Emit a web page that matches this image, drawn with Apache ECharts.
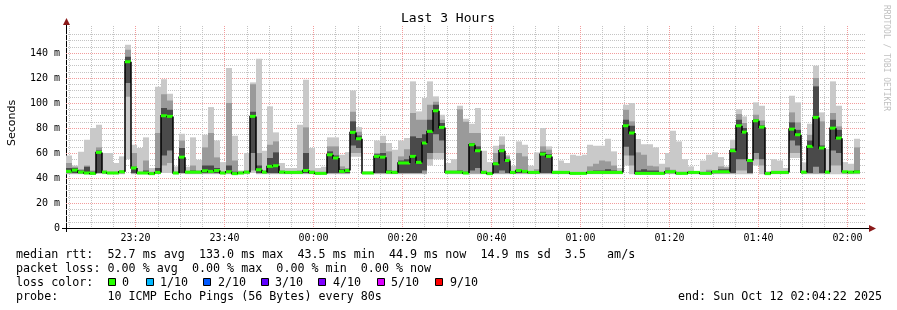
<!DOCTYPE html>
<html>
<head>
<meta charset="utf-8">
<title>Last 3 Hours</title>
<script src="https://cdn.jsdelivr.net/npm/echarts@6/dist/echarts.min.js"></script>
<style>
html, body { margin: 0; padding: 0; background: #fff; }
#chart { width: 897px; height: 310px; }
</style>
</head>
<body>
<div id="chart"></div>
<script>
// one probe round (10 pings) every 80 s, seconds counted from 23:00:00
const startSec = 262
const stepSec = 80
const endSec = 11062

// median rtt per round, ms
const median = [45.3, 46.3, 44.7, 44, 43.7, 60.5, 44.7, 44, 44, 45,
  133.0, 48, 44, 44, 43.5, 44.5, 89.8, 89.3, 44, 56.7,
  44.7, 44.7, 44.7, 45.8, 45.3, 46, 44, 45, 43.5, 44,
  44.7, 89.3, 46.6, 44.7, 49.3, 49.8, 44.7, 44.5, 44.5, 44.5,
  46, 44.5, 43.7, 43.7, 58.6, 56, 45.3, 46, 76.5, 71.4,
  44, 44, 57.3, 56.7, 44.7, 44.5, 52, 52, 57.3, 52.5,
  68, 77.3, 93.8, 80.5, 44.7, 44.7, 44.7, 44, 66.6, 61.8,
  44.5, 43.5, 51.4, 61.8, 54, 44.5, 46, 45.3, 44.5, 44.5,
  59.1, 57.3, 44.5, 44.5, 44.5, 43.7, 43.7, 43.7, 44.5, 44.5,
  44.5, 44.5, 44.5, 44.5, 81.8, 76, 43.7, 43.7, 43.7, 43.7,
  43.7, 45, 45, 43.7, 43.7, 44.5, 44.5, 43.7, 43.7, 45,
  45, 45, 61.8, 81.8, 76.7, 54, 85.8, 80.7, 43.5, 44.5,
  44.5, 44.5, 79.1, 74.6, 44.7, 65.3, 88.5, 64, 44.7, 79.9,
  71.9, 45, 44.7, 44.9]

// slowest ping of each round (top of the smoke)
const maxPing = [58, 50, 61, 70.6, 80, 82.6, 60, 60, 52, 57.3,
  146.6, 66.6, 64, 72.5, 48, 113, 119, 107.4, 49.3, 75.4,
  49, 72.5, 54.6, 74.6, 96.7, 70, 52.7, 128, 73.8, 46,
  60, 116.5, 135.4, 61.8, 97.3, 76.5, 52, 48, 48, 82.6,
  118.6, 64, 48, 49, 72.5, 72.5, 58.6, 60.7, 110, 80.7,
  45.5, 45.5, 70, 73.8, 68, 62.6, 70, 72, 117.3, 93.3,
  104, 117.3, 105.3, 90.6, 52, 55, 97.8, 87.4, 83.4, 96,
  61.8, 52.7, 65.8, 73.3, 58.6, 49.8, 69.3, 66.6, 49.8, 60.5,
  80, 65.3, 46, 54, 52, 58.6, 57.8, 58.6, 66.6, 65.8,
  65.8, 71.4, 61.3, 48, 98.6, 100, 71.2, 67, 67, 64.5,
  51.4, 60, 77.8, 69.3, 55, 49.3, 45.5, 54, 58.6, 60.5,
  56.7, 49.3, 70.6, 95.1, 89.3, 55, 100.5, 97.8, 45.5, 55,
  54, 48, 105.8, 100.5, 52.5, 83.4, 129.8, 92.5, 63.1, 117.3,
  97.8, 52.7, 51.4, 71.4]

// fastest ping of each round (bottom of the smoke)
const minPing = [43, 43, 43, 43, 43, 44, 43, 43, 43, 43,
  55, 43, 43, 43, 43, 43, 44, 44, 43, 44,
  43, 43, 43, 43, 43, 43, 43, 43, 43, 43,
  43, 44, 43, 43, 43, 43, 43, 43, 43, 43,
  43, 43, 43, 43, 43, 43, 43, 43, 57, 57,
  43, 43, 43, 43, 43, 43, 43, 43, 43, 43,
  43, 50, 55, 55, 43, 43, 43, 43, 43, 43,
  43, 43, 43, 43, 43, 43, 43, 43, 43, 43,
  43, 43, 43, 43, 43, 43, 43, 43, 43, 43,
  43, 43, 43, 43, 50, 43, 43, 43, 43, 43,
  43, 43, 43, 43, 43, 43, 43, 43, 43, 43,
  43, 43, 43, 43, 43, 43, 50, 43, 43, 43,
  43, 43, 56, 56, 43, 43, 43, 43, 43, 43,
  43, 43, 43, 43]

// inner smoke band (3rd fastest .. 3rd slowest ping)
const midHigh = [52, 49, 47, 50, 46, 64.5, 46, 45, 45, 46,
  142.6, 60, 45, 54, 45, 76, 107, 102, 45, 70,
  45.5, 50, 46, 64.5, 76, 56.5, 45, 100, 54, 45,
  46, 115, 60, 46, 66.6, 69.3, 46, 45, 45, 46,
  80.5, 46, 45, 45, 65.3, 65.3, 49.3, 48, 93, 77,
  44.5, 44.5, 60, 68, 61.3, 46, 57.3, 63, 92, 86.6,
  86.6, 98.6, 101, 86.6, 46, 46, 95, 85, 76, 76,
  46, 45, 60, 66.6, 57.3, 45, 60, 57.3, 45, 47,
  65.3, 62.6, 45, 45, 45, 44.5, 44.5, 44.5, 49.3, 51.4,
  54, 53.3, 50, 45, 94.6, 85.3, 60.5, 58.6, 49.8, 49.3,
  45, 48.5, 46.6, 45, 45, 45, 45, 45, 46.6, 46,
  49.3, 48.5, 64, 91.1, 84, 54.5, 90.6, 86, 44.5, 45,
  45, 45, 92.5, 84.5, 45, 74.6, 120, 85.3, 46, 92,
  81.3, 45.5, 45, 64.5]
const midLow = [43.5, 43.5, 43.5, 43.5, 43.5, 43.5, 43.5, 43.5, 43.5, 43.5,
  105, 43.5, 43.5, 43.5, 43.5, 43.5, 50, 52, 43.5, 43.5,
  43.5, 43.5, 43.5, 43.5, 43.5, 43.5, 43.5, 43.5, 43.5, 43.5,
  43.5, 46, 43.5, 43.5, 43.5, 43.5, 43.5, 43.5, 43.5, 43.5,
  43.5, 43.5, 43.5, 43.5, 43.5, 43.5, 43.5, 43.5, 60, 60,
  43.5, 43.5, 43.5, 43.5, 43.5, 43.5, 43.5, 43.5, 43.5, 43.5,
  43.5, 55, 60, 60, 43.5, 43.5, 43.5, 43.5, 43.5, 43.5,
  43.5, 43.5, 43.5, 43.5, 43.5, 43.5, 43.5, 43.5, 43.5, 43.5,
  43.5, 43.5, 43.5, 43.5, 43.5, 43.5, 43.5, 43.5, 43.5, 43.5,
  43.5, 43.5, 43.5, 43.5, 58, 50, 43.5, 43.5, 43.5, 43.5,
  43.5, 43.5, 43.5, 43.5, 43.5, 43.5, 43.5, 43.5, 43.5, 43.5,
  43.5, 43.5, 43.5, 46, 46, 43.5, 55, 50, 43.5, 43.5,
  43.5, 43.5, 60, 60, 43.5, 43.5, 43.5, 43.5, 43.5, 50,
  50, 43.5, 43.5, 43.5]

// core smoke band (pings around the median)
const darkHigh = [48, 48, 46, 49, 45, 62, 45, 44.5, 44.5, 45.5,
  137, 49, 44.5, 46, 44, 48, 96, 94.6, 44.5, 64,
  45, 46, 45, 50, 50, 48, 44.5, 50, 45, 44.5,
  45, 93, 50, 45, 56, 60.5, 45, 45, 45, 45,
  60, 45, 44.5, 44.5, 61.3, 58, 47, 47, 85.3, 74,
  44.5, 44.5, 59, 60, 46, 45, 54, 55, 73.3, 72,
  75, 86.6, 98.6, 84, 45, 45, 46, 45, 68, 65.3,
  45, 44, 52.5, 63, 55, 45, 47, 46, 45, 45,
  61, 59, 45, 45, 45, 44.5, 44.5, 44.5, 45, 46,
  46, 47, 46, 45, 86.6, 81.8, 46, 47, 46, 46,
  44.5, 46, 45.5, 44.5, 44.5, 45, 45, 44.5, 45, 45.5,
  47, 47, 62.5, 86.6, 80, 54.5, 87, 82, 44, 45,
  45, 45, 84.5, 78.5, 45.5, 70, 113.3, 66, 45.5, 86.6,
  78.5, 45.5, 45.5, 46]
const darkLow = [44, 44, 44, 44, 44, 44, 44, 44, 44, 44,
  116, 44, 44, 44, 44, 44, 58, 62, 44, 44,
  44, 44, 44, 44, 44, 44, 44, 44, 44, 44,
  44, 60, 44, 44, 44, 44, 44, 44, 44, 44,
  44, 44, 44, 44, 44, 44, 44, 44, 66, 64,
  44, 44, 44, 44, 44, 44, 44, 44, 44, 44,
  46, 60, 75, 70, 44, 44, 44, 44, 46, 48,
  44, 44, 44, 46, 44, 44, 44, 44, 44, 44,
  44, 44, 44, 44, 44, 44, 44, 44, 44, 44,
  44, 44, 44, 44, 65, 58, 44, 44, 44, 44,
  44, 44, 44, 44, 44, 44, 44, 44, 44, 44,
  44, 44, 44, 55, 55, 44, 60, 55, 44, 44,
  44, 44, 70, 66, 44, 44, 49, 44, 44, 62,
  60, 44, 44, 44]

const xTickSecs = [1200, 2400, 3600, 4800, 6000, 7200, 8400, 9600, 10800]
const xTickLabels = ['23:20', '23:40', '00:00', '00:20', '00:40', '01:00', '01:20', '01:40', '02:00']
const yTicks = [0, 20, 40, 60, 80, 100, 120, 140]

const mono = 'DejaVu Sans Mono'
const smokeRows = median.map((m, i) => [startSec + i * stepSec, startSec + (i + 1) * stepSec,
  minPing[i], maxPing[i], midLow[i], midHigh[i], darkLow[i], darkHigh[i]])
const medianRows = median.map((m, i) => [startSec + i * stepSec, startSec + (i + 1) * stepSec,
  m, i > 0 ? median[i - 1] : m])
const gridSecs = []
for (let s = 300; s < endSec; s += 300) gridSecs.push([s])

function renderSmoke (params, api) {
  const t0 = api.value(0)
  const t1 = api.value(1)
  const bands = [[2, 3, '#c9c9c9'], [4, 5, '#9a9a9a'], [6, 7, '#4a4a4a']]
  return {
    type: 'group',
    children: bands.map(([lo, hi, color]) => {
      const a = api.coord([t0, api.value(hi)])
      const b = api.coord([t1, api.value(lo)])
      const x0 = Math.round(a[0])
      const x1 = Math.round(b[0])
      return { type: 'rect', shape: { x: x0, y: a[1], width: x1 - x0, height: b[1] - a[1] }, style: { fill: color } }
    })
  }
}

function renderMedian (params, api) {
  const a = api.coord([api.value(0), api.value(2)])
  const b = api.coord([api.value(1), api.value(2)])
  const prev = api.coord([api.value(0), api.value(3)])
  const x0 = Math.round(a[0])
  const x1 = Math.round(b[0])
  return {
    type: 'group',
    children: [
      { type: 'polyline', shape: { points: [[x0, prev[1]], [x0, a[1]], [x1, a[1]]] }, style: { stroke: '#000', lineWidth: 1.5, fill: null } },
      { type: 'rect', shape: { x: x0, y: a[1] - 1.5, width: x1 - x0, height: 3 }, style: { fill: '#26ff00' } }
    ]
  }
}

function renderVGrid (params, api) {
  const s = api.value(0)
  const top = api.coord([s, 160])
  const bot = api.coord([s, 0])
  const x = Math.round(top[0]) + 0.5
  const major = s % 1200 === 0
  const children = [{
    type: 'line',
    shape: { x1: x, y1: top[1] - 2, x2: x, y2: bot[1] },
    style: { stroke: major ? '#f29c9c' : '#c4c4c4', lineWidth: 1, lineDash: [1, 1] }
  }]
  const k = xTickSecs.indexOf(s)
  if (k >= 0) {
    children.push({
      type: 'text', x: x, y: bot[1] + 10,
      style: { text: xTickLabels[k], font: '10px "' + mono + '"', fill: '#000', textAlign: 'center', textVerticalAlign: 'middle' }
    })
  }
  return { type: 'group', children }
}

const txt = (text, x, y, size, extra) => Object.assign({
  type: 'text', x: x, y: y,
  style: { text: text, font: (size || 11.7) + 'px "' + mono + '"', fill: '#000', textAlign: 'left', textVerticalAlign: 'middle' }
}, extra || {})

const lossColors = [['0', '#26ff00'], ['1/10', '#00b8ff'], ['2/10', '#0059ff'], ['3/10', '#5e00ff'],
  ['4/10', '#7e00ff'], ['5/10', '#dd00ff'], ['9/10', '#ff0000']]
const lossBoxX = [108, 146, 203, 261, 318, 377, 435]
const lossTextX = [122, 160, 218, 275, 333, 391, 450]

const graphics = [
  txt('Last 3 Hours', 448, 19, 13, { style: { text: 'Last 3 Hours', font: '13px "' + mono + '"', fill: '#000', textAlign: 'center', textVerticalAlign: 'middle' } }),
  { type: 'text', x: 12, y: 123, rotation: Math.PI / 2,
    style: { text: 'Seconds', font: '11px "DejaVu Sans"', fill: '#000', textAlign: 'center', textVerticalAlign: 'middle' } },
  { type: 'text', x: 886, y: 58, rotation: -Math.PI / 2,
    style: { text: 'RRDTOOL / TOBI OETIKER', font: '8px "' + mono + '"', fill: '#c0c0c0', textAlign: 'center', textVerticalAlign: 'middle' } },
  { type: 'line', shape: { x1: 66.5, y1: 24, x2: 66.5, y2: 232 }, style: { stroke: '#000', lineWidth: 1 } },
  { type: 'line', shape: { x1: 62, y1: 228.5, x2: 870, y2: 228.5 }, style: { stroke: '#000', lineWidth: 1 } },
  { type: 'polygon', shape: { points: [[63, 25], [66.5, 18], [70, 25]] }, style: { fill: '#8b1a1a' } },
  { type: 'polygon', shape: { points: [[869, 225], [876, 228.5], [869, 232]] }, style: { fill: '#8b1a1a' } },
  txt('median rtt:  52.7 ms avg  133.0 ms max  43.5 ms min  44.9 ms now  14.9 ms sd  3.5   am/s', 16, 255),
  txt('packet loss: 0.00 % avg  0.00 % max  0.00 % min  0.00 % now', 16, 268.5),
  txt('loss color:', 16, 282.5),
  txt('probe:       10 ICMP Echo Pings (56 Bytes) every 80s', 16, 296.5),
  txt('end: Sun Oct 12 02:04:22 2025', 678, 296.5)
]
lossColors.forEach(([label, color], i) => {
  graphics.push({ type: 'rect', shape: { x: lossBoxX[i] + 0.5, y: 278.5, width: 7, height: 7 }, style: { fill: color, stroke: '#000', lineWidth: 1 } })
  graphics.push(txt(label, lossTextX[i], 282.5))
})

const chart = echarts.init(document.getElementById('chart'))
chart.setOption({
  animation: false,
  backgroundColor: '#fff',
  grid: { left: 66, right: 31, top: 28, bottom: 82 },
  xAxis: {
    type: 'value', min: startSec, max: endSec,
    axisLine: { show: false }, axisTick: { show: false }, axisLabel: { show: false }, splitLine: { show: false }
  },
  yAxis: {
    type: 'value', min: 0, max: 160, interval: 20,
    axisLine: { show: false }, axisTick: { show: false },
    axisLabel: {
      showMaxLabel: false, margin: 6, color: '#000', fontFamily: mono, fontSize: 10,
      formatter: v => yTicks.indexOf(v) < 0 ? '' : (v === 0 ? '0' : v + ' m')
    },
    splitLine: { show: true, showMinLine: false, showMaxLine: false, lineStyle: { color: '#f29c9c', type: [1, 1], width: 1 } },
    minorTick: { show: false, splitNumber: 4 },
    minorSplitLine: { show: true, lineStyle: { color: '#c4c4c4', type: [1, 1], width: 1 } }
  },
  graphic: graphics,
  series: [
    { type: 'custom', name: 'grid', z: 1, silent: true, data: gridSecs, renderItem: renderVGrid },
    { type: 'custom', name: 'smoke', z: 2, silent: true, data: smokeRows, renderItem: renderSmoke },
    { type: 'custom', name: 'median', z: 3, silent: true, data: medianRows, renderItem: renderMedian }
  ]
})
</script>
</body>
</html>
